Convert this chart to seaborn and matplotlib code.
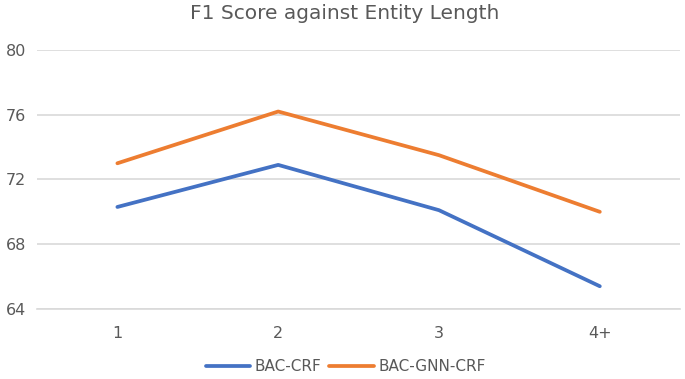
import matplotlib
matplotlib.use("Agg")
import matplotlib.pyplot as plt
import seaborn as sns
import pandas as pd

# data
lengths = ["1", "2", "3", "4+"]
bac_crf = [70.3, 72.9, 70.1, 65.4]
bac_gnn_crf = [73.0, 76.2, 73.5, 70.0]
yticks = [64, 68, 72, 76, 80]

df = pd.DataFrame({
    "length": lengths * 2,
    "f1": bac_crf + bac_gnn_crf,
    "model": ["BAC-CRF"] * 4 + ["BAC-GNN-CRF"] * 4,
})

sns.set_style("white")
plt.rcParams['font.family'] = ['DejaVu Sans']
text_col = "#595959"

fig = plt.figure(figsize=(6.85, 3.79), dpi=100)
ax = fig.add_axes([0.054, 0.185, 0.939, 0.683])

sns.lineplot(data=df, x="length", y="f1", hue="model", ax=ax,
             palette=["#4472C4", "#ED7D31"], linewidth=2.7,
             sort=False, legend=True)

ax.set_xlim(-0.5, 3.5)
ax.set_ylim(64, 80)
ax.set_yticks(yticks)
ax.yaxis.grid(True, color="#D9D9D9", linewidth=1.2)
ax.set_axisbelow(True)
for s in ["top", "right", "left"]:
    ax.spines[s].set_visible(False)
ax.spines["bottom"].set_color("#D9D9D9")
ax.spines["bottom"].set_linewidth(1.2)
ax.tick_params(axis="both", length=0, labelsize=11.5, labelcolor=text_col)
ax.tick_params(axis="x", pad=12)
ax.tick_params(axis="y", pad=8)
ax.set_xlabel("")
ax.set_ylabel("")

fig.suptitle("F1 Score against Entity Length", x=0.503, y=0.99,
             fontsize=14.5, color=text_col)

leg = ax.legend(loc="upper center", bbox_to_anchor=(0.48, -0.14), ncol=2,
                frameon=False, fontsize=11, handlelength=2.9,
                columnspacing=0.5, handletextpad=0.3)
for t in leg.get_texts():
    t.set_color(text_col)

fig.savefig("out.png", dpi=100)
